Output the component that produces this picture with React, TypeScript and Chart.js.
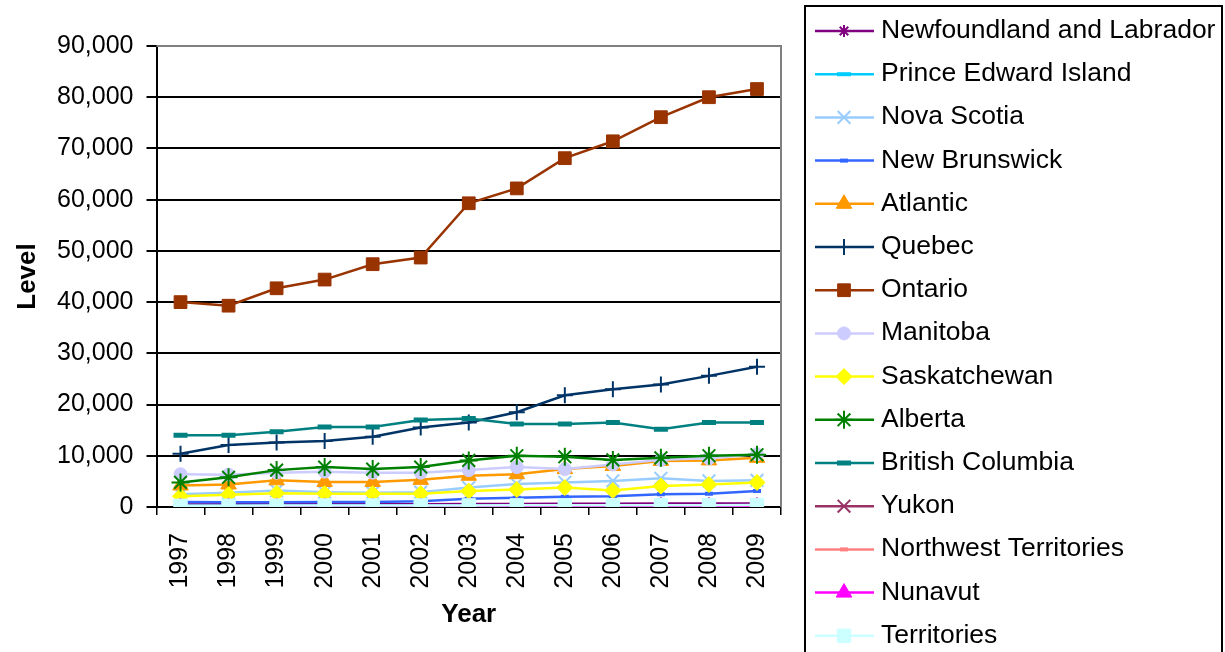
import React, { useEffect, useRef } from 'react';
import { Chart, registerables } from 'chart.js';
import { drawPoint } from 'chart.js/helpers';

Chart.register(...registerables);

const years = ['1997', '1998', '1999', '2000', '2001', '2002', '2003', '2004', '2005', '2006', '2007', '2008', '2009'];

const newfoundland = [500, 550, 550, 550, 550, 550, 600, 600, 650, 650, 700, 700, 700];
const princeEdward = [250, 250, 250, 300, 300, 300, 300, 350, 350, 350, 350, 350, 350];
const novaScotia = [2500, 2800, 3200, 2900, 2800, 2900, 3800, 4500, 4800, 5100, 5600, 5100, 5200];
const newBrunswick = [1000, 950, 950, 1000, 1000, 1100, 1600, 1800, 2000, 2100, 2500, 2600, 3100];
const atlantic = [4200, 4400, 5200, 4900, 4900, 5300, 6100, 6400, 7400, 8000, 9000, 9100, 9600];
const quebec = [10400, 12100, 12600, 12900, 13700, 15500, 16500, 18500, 21800, 23000, 23900, 25600, 27400];
const ontario = [40000, 39300, 42700, 44400, 47400, 48700, 59300, 62200, 68100, 71400, 76100, 80000, 81600];
const manitoba = [6400, 6300, 6700, 6900, 6700, 6700, 7200, 7800, 7400, 8300, 9200, 9500, 10300];
const saskatchewan = [2100, 2400, 2700, 2600, 2600, 2600, 3100, 3400, 3800, 3200, 4100, 4400, 4800];
const alberta = [4800, 5800, 7200, 7800, 7400, 7800, 9100, 10000, 9800, 9200, 9600, 10000, 10200];
const britishColumbia = [14000, 14000, 14700, 15600, 15600, 17000, 17300, 16200, 16200, 16500, 15200, 16500, 16500];
const yukon = [90, 90, 100, 100, 100, 100, 110, 110, 110, 120, 120, 120, 130];
const northwest = [150, 150, 160, 160, 170, 170, 180, 180, 190, 190, 200, 200, 210];
const nunavut = [0, 10, 10, 20, 20, 20, 20, 30, 30, 30, 30, 40, 40];
const territories = [240, 250, 270, 280, 290, 290, 310, 320, 330, 340, 350, 360, 380];

const seriesDefs = [
  { label: 'Newfoundland and Labrador', data: newfoundland, color: '#800080', style: 'star', r: 6, bw: 2 },
  { label: 'Prince Edward Island', data: princeEdward, color: '#00CCFF', style: 'line', r: 7, bw: 4 },
  { label: 'Nova Scotia', data: novaScotia, color: '#99CCFF', style: 'crossRot', r: 9, bw: 2 },
  { label: 'New Brunswick', data: newBrunswick, color: '#3366FF', style: 'line', r: 4, bw: 4 },
  { label: 'Atlantic', data: atlantic, color: '#FF9900', style: 'triangle', r: 9, bw: 1 },
  { label: 'Quebec', data: quebec, color: '#003366', style: 'cross', r: 8, bw: 2 },
  { label: 'Ontario', data: ontario, color: '#993300', style: 'rect', r: 9, bw: 1 },
  { label: 'Manitoba', data: manitoba, color: '#CCCCFF', style: 'circle', r: 6.5, bw: 1 },
  { label: 'Saskatchewan', data: saskatchewan, color: '#FFFF00', style: 'rectRot', r: 8, bw: 1 },
  { label: 'Alberta', data: alberta, color: '#008000', style: 'star', r: 9, bw: 2 },
  { label: 'British Columbia', data: britishColumbia, color: '#008080', style: 'line', r: 7, bw: 5 },
  { label: 'Yukon', data: yukon, color: '#993366', style: 'crossRot', r: 9, bw: 2 },
  { label: 'Northwest Territories', data: northwest, color: '#FF8080', style: 'line', r: 4, bw: 4 },
  { label: 'Nunavut', data: nunavut, color: '#FF00FF', style: 'triangle', r: 9, bw: 1 },
  { label: 'Territories', data: territories, color: '#CCFFFF', style: 'rect', r: 9.5, bw: 1 },
];

const FONT = '"Liberation Sans", Arial, sans-serif';

const plotBorder = {
  id: 'plotBorder',
  beforeDatasetsDraw(chart: any) {
    const { ctx, chartArea } = chart;
    ctx.save();
    ctx.strokeStyle = '#808080';
    ctx.lineWidth = 2;
    ctx.beginPath();
    ctx.moveTo(chartArea.left, chartArea.top);
    ctx.lineTo(chartArea.right, chartArea.top);
    ctx.lineTo(chartArea.right, chartArea.bottom);
    ctx.stroke();
    ctx.restore();
  },
};

const customLegend = {
  id: 'customLegend',
  afterDraw(chart: any) {
    const ctx = chart.ctx;
    ctx.save();
    ctx.strokeStyle = '#000';
    ctx.lineWidth = 2;
    ctx.strokeRect(805, 6, 417, 680);
    chart.data.datasets.forEach((ds: any, i: number) => {
      const y = 31 + i * 43.2;
      ctx.strokeStyle = ds.borderColor;
      ctx.lineWidth = 2.5;
      ctx.beginPath();
      ctx.moveTo(815, y);
      ctx.lineTo(874, y);
      ctx.stroke();
      ctx.fillStyle = ds.pointBackgroundColor;
      ctx.strokeStyle = ds.pointBorderColor;
      ctx.lineWidth = ds.pointBorderWidth;
      drawPoint(ctx, { pointStyle: ds.pointStyle, radius: ds.pointRadius, rotation: 0, borderWidth: ds.pointBorderWidth } as any, 844, y);
      ctx.fillStyle = '#000';
      ctx.font = '26.5px ' + FONT;
      ctx.textAlign = 'left';
      ctx.textBaseline = 'alphabetic';
      ctx.fillText(ds.label, 881, y + 7);
    });
    ctx.restore();
  },
};

export default function App() {
  const ref = useRef<HTMLCanvasElement>(null);
  useEffect(() => {
    if (!ref.current) return;
    const n = seriesDefs.length;
    const chart = new Chart(ref.current, {
      type: 'line',
      data: {
        labels: years,
        datasets: seriesDefs.map((s, i) => ({
          label: s.label,
          data: s.data,
          borderColor: s.color,
          backgroundColor: s.color,
          borderWidth: 2.5,
          pointStyle: s.style as any,
          pointRadius: s.r,
          pointBorderWidth: s.bw,
          pointBackgroundColor: s.color,
          pointBorderColor: s.color,
          tension: 0,
          order: n - 1 - i,
        })),
      },
      options: {
        animation: false,
        responsive: false,
        maintainAspectRatio: false,
        layout: { padding: { left: 8, top: 46, right: 444, bottom: 18 } },
        plugins: { legend: { display: false }, tooltip: { enabled: false } },
        scales: {
          x: {
            offset: true,
            grid: { display: true, drawOnChartArea: false, drawTicks: true, tickLength: 8, offset: true, color: '#000', lineWidth: 1.5 },
            border: { display: true, color: '#000', width: 2 },
            ticks: { color: '#000', font: { family: FONT, size: 25 }, minRotation: 90, maxRotation: 90, padding: 18, autoSkip: false },
            title: { display: true, text: 'Year', color: '#000', font: { family: FONT, size: 26, weight: 'bold' }, padding: 4 },
            afterFit: (s: any) => { s.height = 127; },
          },
          y: {
            min: 0,
            max: 90000,
            ticks: { stepSize: 10000, color: '#000', font: { family: FONT, size: 25 }, padding: 13 },
            grid: {
              color: (c: any) => (c.tick && c.tick.value === 90000 ? '#808080' : '#000'),
              tickColor: '#000',
              lineWidth: 2,
              tickLength: 10,
            },
            border: { display: true, color: '#000', width: 2 },
            title: { display: true, text: 'Level', color: '#000', font: { family: FONT, size: 26, weight: 'bold' }, padding: 4 },
            afterFit: (s: any) => { s.width = 148.5; },
          },
        },
      },
      plugins: [plotBorder, customLegend],
    });
    return () => chart.destroy();
  }, []);
  return (
    <div style={{ position: 'fixed', left: 0, top: 0, width: 1225, height: 652, background: '#fff' }}>
      <canvas ref={ref} width={1225} height={652} style={{ width: 1225, height: 652 }} />
    </div>
  );
}
